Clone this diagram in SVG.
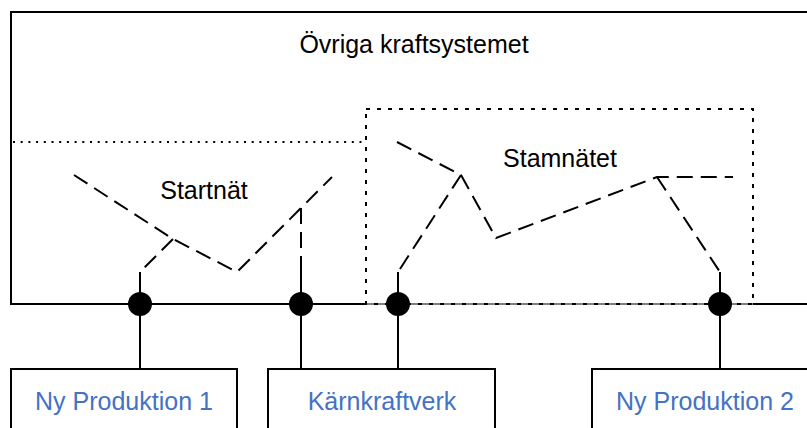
<svg xmlns="http://www.w3.org/2000/svg" width="807" height="428" viewBox="0 0 807 428">
<style>
.t{font-family:"Liberation Sans",Arial,sans-serif;font-size:25px;fill:#000;text-anchor:middle}
.b{fill:#4472C4}
.s{fill:none;stroke:#000;stroke-width:2}
.d{fill:none;stroke:#000;stroke-width:2;stroke-dasharray:16 8}
.dot{fill:none;stroke:#000;stroke-width:2;stroke-dasharray:4 7}
.fine{fill:none;stroke:#000;stroke-width:2;stroke-dasharray:2 5.7}
.box{fill:#fff;stroke:#000;stroke-width:2}
</style>
<rect width="807" height="428" fill="#fff"/>
<g id="ovriga">
<path class="s" d="M810 12 H11 V304 H366 M753 304 H810"/>
<path d="M366 304 H753" fill="none" stroke="#000" stroke-width="1.2"/>
<path class="fine" d="M13 142 H365"/>
<text class="t" x="414" y="53">Övriga kraftsystemet</text>
</g>
<g id="startnat">
<polyline class="d" points="74,175 173,239 237,272 332,177"/>
<path class="d" d="M173 239 L140 272"/>
<path class="d" d="M301 208 V270"/>
<text class="t" x="204" y="199">Startnät</text>
</g>
<g id="stamnatet">
<rect class="dot" x="366" y="109" width="387" height="195"/>
<polyline class="d" points="397,142 461,175 496,238 657,177 733,177"/>
<path class="d" d="M461 175 L398 272"/>
<path class="d" d="M657 177 L720 272"/>
<text class="t" x="560" y="167">Stamnätet</text>
</g>
<g id="connectors">
<path class="s" d="M140 272 V369 M301 270 V369 M398 272 V369 M720 272 V369"/>
</g>
<g id="bus1"><circle cx="140" cy="304" r="12"/></g>
<g id="bus2"><circle cx="301" cy="304" r="12"/></g>
<g id="bus3"><circle cx="398" cy="304" r="12"/></g>
<g id="bus4"><circle cx="720" cy="304" r="12"/></g>
<g id="nyprod1">
<rect class="box" x="11" y="369" width="226" height="70"/>
<text class="t b" x="124" y="410">Ny Produktion 1</text>
</g>
<g id="karnkraftverk">
<rect class="box" x="268" y="369" width="227" height="70"/>
<text class="t b" x="382" y="410">Kärnkraftverk</text>
</g>
<g id="nyprod2">
<rect class="box" x="592" y="369" width="230" height="70"/>
<text class="t b" x="705" y="410">Ny Produktion 2</text>
</g>
</svg>
